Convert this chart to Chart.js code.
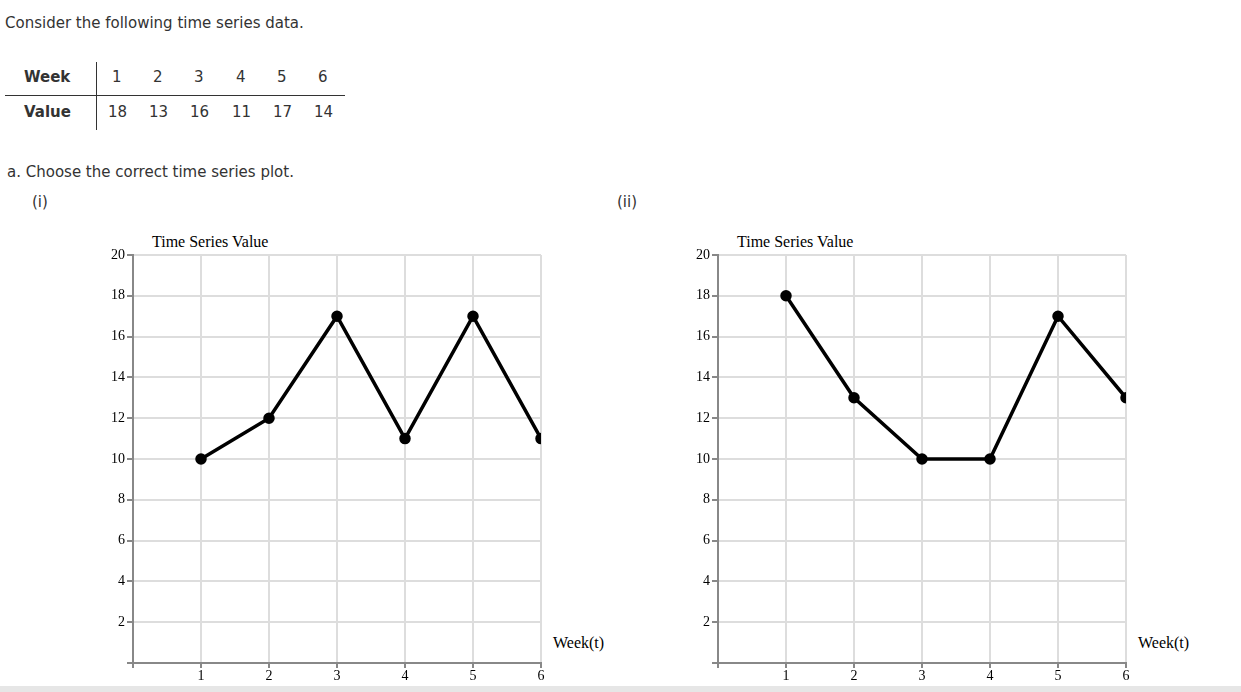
<!DOCTYPE html><html><head><meta charset="utf-8">
<script src="https://cdn.jsdelivr.net/npm/chart.js@4"></script>
<style>
body{margin:0;width:1241px;height:692px;position:relative;background:#fff;overflow:hidden;font-family:"DejaVu Sans",Verdana,sans-serif;color:#333;font-size:15px}
.a{position:absolute;white-space:nowrap}
.s{font-family:"Liberation Serif","Times New Roman",serif;color:#000;font-size:16px}
canvas{position:absolute}
td{padding:0}
</style></head><body>
<div class="a" style="left:5px;top:14px">Consider the following time series data.</div>
<div class="a" style="left:5px;top:95px;width:340px;height:1px;background:#333"></div>
<div class="a" style="left:96px;top:62px;width:1px;height:68px;background:#333"></div>
<div id="tbl"></div>
<div class="a" style="left:7px;top:163px">a. Choose the correct time series plot.</div>
<div class="a" style="left:32px;top:193px">(i)</div>
<div class="a" style="left:617px;top:193px">(ii)</div>
<div class="a s" style="left:152px;top:233px">Time Series Value</div>
<div class="a s" style="left:737px;top:233px">Time Series Value</div>
<div class="a s" style="left:553px;top:634px">Week(t)</div>
<div class="a s" style="left:1138px;top:634px">Week(t)</div>
<canvas id="c1" style="left:90px;top:230px;width:540px;height:460px" width="540" height="460"></canvas>
<canvas id="c2" style="left:675px;top:230px;width:540px;height:460px" width="540" height="460"></canvas>
<div class="a" style="left:0;top:686px;width:1241px;height:6px;background:#e6e6e6"></div>
<script>
const weeks=[1,2,3,4,5,6];
const tableValues=[18,13,16,11,17,14];
const plotI=[10,12,17,11,17,11];
const plotII=[18,13,10,10,17,13];
const yTicks=[2,4,6,8,10,12,14,16,18,20];

let h='';
h+='<div class="a" style="left:24px;top:68px;font-weight:bold">Week</div><div class="a" style="left:24px;top:103px;font-weight:bold">Value</div>';
const xs=[117,158,199,241,282,323];
weeks.forEach((w,i)=>{h+=`<div class="a" style="left:${xs[i]-5}px;top:68px">${w}</div>`;
 h+=`<div class="a" style="left:${xs[i]-9}px;top:103px">${tableValues[i]}</div>`;});
document.getElementById('tbl').innerHTML=h;

function make(id,vals){
 new Chart(document.getElementById(id),{type:'line',
  data:{datasets:[{data:weeks.map((w,i)=>({x:w,y:vals[i]})),borderColor:'#000',backgroundColor:'#000',borderWidth:3.5,pointRadius:4,pointHoverRadius:4,tension:0}]},
  options:{responsive:false,animation:false,devicePixelRatio:1,
   layout:{padding:{top:25,right:89,left:0,bottom:0}},
   plugins:{legend:{display:false},tooltip:{enabled:false}},
   scales:{
    x:{type:'linear',min:0,max:6,afterFit:s=>{s.height=27},
      ticks:{stepSize:1,color:'#000',font:{family:'Liberation Serif',size:14},padding:0,callback:v=>v===0?'':v},
      grid:{color:'#ddd',lineWidth:2,tickLength:5,tickColor:'#888'},border:{color:'#888',width:2}},
    y:{min:0,max:20,afterFit:s=>{s.width=43},
      afterBuildTicks:s=>{s.ticks=[0,...yTicks].map(v=>({value:v}))},
      ticks:{color:'#000',font:{family:'Liberation Serif',size:14},padding:2,callback:v=>v===0?'':v},
      grid:{color:'#ddd',lineWidth:2,tickLength:6,tickColor:'#888'},border:{color:'#888',width:2}}
   }}});
}
make('c1',plotI);make('c2',plotII);
</script></body></html>
